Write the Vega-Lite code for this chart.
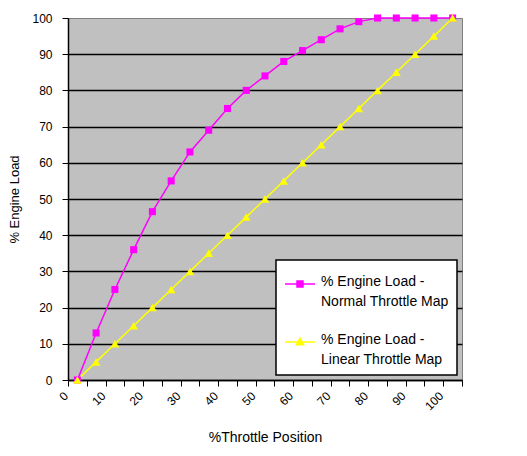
{
  "$schema": "https://vega.github.io/schema/vega-lite/v6.json",
  "width": 394,
  "height": 362,
  "autosize": "none",
  "padding": {"left": 68, "top": 18, "right": 65, "bottom": 76},
  "background": "white",
  "data": {
    "values": [
      {"throttle": 0, "load": 0, "map": "Normal"},
      {"throttle": 5, "load": 13, "map": "Normal"},
      {"throttle": 10, "load": 25, "map": "Normal"},
      {"throttle": 15, "load": 36, "map": "Normal"},
      {"throttle": 20, "load": 46.5, "map": "Normal"},
      {"throttle": 25, "load": 55, "map": "Normal"},
      {"throttle": 30, "load": 63, "map": "Normal"},
      {"throttle": 35, "load": 69, "map": "Normal"},
      {"throttle": 40, "load": 75, "map": "Normal"},
      {"throttle": 45, "load": 80, "map": "Normal"},
      {"throttle": 50, "load": 84, "map": "Normal"},
      {"throttle": 55, "load": 88, "map": "Normal"},
      {"throttle": 60, "load": 91, "map": "Normal"},
      {"throttle": 65, "load": 94, "map": "Normal"},
      {"throttle": 70, "load": 97, "map": "Normal"},
      {"throttle": 75, "load": 99, "map": "Normal"},
      {"throttle": 80, "load": 100, "map": "Normal"},
      {"throttle": 85, "load": 100, "map": "Normal"},
      {"throttle": 90, "load": 100, "map": "Normal"},
      {"throttle": 95, "load": 100, "map": "Normal"},
      {"throttle": 100, "load": 100, "map": "Normal"},
      {"throttle": 0, "load": 0, "map": "Linear"},
      {"throttle": 5, "load": 5, "map": "Linear"},
      {"throttle": 10, "load": 10, "map": "Linear"},
      {"throttle": 15, "load": 15, "map": "Linear"},
      {"throttle": 20, "load": 20, "map": "Linear"},
      {"throttle": 25, "load": 25, "map": "Linear"},
      {"throttle": 30, "load": 30, "map": "Linear"},
      {"throttle": 35, "load": 35, "map": "Linear"},
      {"throttle": 40, "load": 40, "map": "Linear"},
      {"throttle": 45, "load": 45, "map": "Linear"},
      {"throttle": 50, "load": 50, "map": "Linear"},
      {"throttle": 55, "load": 55, "map": "Linear"},
      {"throttle": 60, "load": 60, "map": "Linear"},
      {"throttle": 65, "load": 65, "map": "Linear"},
      {"throttle": 70, "load": 70, "map": "Linear"},
      {"throttle": 75, "load": 75, "map": "Linear"},
      {"throttle": 80, "load": 80, "map": "Linear"},
      {"throttle": 85, "load": 85, "map": "Linear"},
      {"throttle": 90, "load": 90, "map": "Linear"},
      {"throttle": 95, "load": 95, "map": "Linear"},
      {"throttle": 100, "load": 100, "map": "Linear"}
    ]
  },
  "encoding": {
    "x": {
      "field": "throttle",
      "type": "quantitative",
      "scale": {"domain": [-2.5, 102.5], "nice": false, "zero": false},
      "axis": {
        "title": "%Throttle Position",
        "values": [-2.5, 2.5, 7.5, 12.5, 17.5, 22.5, 27.5, 32.5, 37.5, 42.5, 47.5, 52.5, 57.5, 62.5, 67.5, 72.5, 77.5, 82.5, 87.5, 92.5, 97.5, 102.5],
        "labelExpr": "(datum.value + 2.5) % 10 == 0 ? format(datum.value + 2.5, 'd') : ''",
        "labelAngle": -45,
        "labelOffset": -6,
        "labelOverlap": false,
        "labelFlush": false,
        "labelPadding": 4,
        "labelFontSize": 12,
        "grid": false,
        "tickSize": 6,
        "titleFontSize": 14,
        "titlePadding": 19
      }
    },
    "y": {
      "field": "load",
      "type": "quantitative",
      "scale": {"domain": [0, 100], "nice": false},
      "axis": {
        "title": "% Engine Load",
        "values": [0, 10, 20, 30, 40, 50, 60, 70, 80, 90, 100],
        "grid": true,
        "gridColor": {"condition": {"test": "datum.value == 100", "value": "transparent"}, "value": "black"},
        "gridWidth": 1.5,
        "tickSize": 6,
        "labelPadding": 10,
        "labelFontSize": 12,
        "titleFontSize": 13,
        "titlePadding": 10
      }
    },
    "color": {
      "field": "map",
      "type": "nominal",
      "scale": {"domain": ["Normal", "Linear"], "range": ["#FF00FF", "#FFFF00"]},
      "legend": {
        "title": null,
        "orient": "bottom-right",
        "offset": 5,
        "labelExpr": "datum.value == 'Normal' ? ['% Engine Load -', 'Normal Throttle Map'] : ['% Engine Load -', 'Linear Throttle Map']",
        "labelFontSize": 14,
        "labelLimit": 300,
        "labelOffset": 5,
        "labelBaseline": "top",
        "symbolType": "stroke",
        "symbolSize": 900,
        "symbolStrokeWidth": 1.5,
        "padding": 8,
        "rowPadding": 17,
        "fillColor": "white",
        "strokeColor": "black",
        "encoding": {
          "symbols": {
            "shape": {
              "condition": {"test": "datum.value == 'Normal'", "value": "M-1,0H1M-0.2,-0.2H0.2V0.2H-0.2Z"},
              "value": "M-1,0H1M0,-0.26L0.24,0.18H-0.24Z"
            },
            "size": {"value": 900},
            "strokeWidth": {"value": 1.5},
            "fill": {
              "condition": {"test": "datum.value == 'Normal'", "value": "#FF00FF"},
              "value": "#FFFF00"
            },
            "stroke": {
              "condition": {"test": "datum.value == 'Normal'", "value": "#FF00FF"},
              "value": "#FFFF00"
            },
            "opacity": {"value": 1}
          },
          "labels": {
            "dy": {"value": -9},
            "lineHeight": {"value": 20}
          },
          "legend": {
            "strokeWidth": {"value": 1.5}
          }
        }
      }
    }
  },
  "layer": [
    {"mark": {"type": "line", "strokeWidth": 1.5}},
    {
      "mark": {"type": "point", "filled": true, "opacity": 1},
      "encoding": {
        "shape": {
          "condition": {"test": "datum.map == 'Normal'", "value": "square"},
          "value": "triangle-up"
        },
        "size": {
          "condition": {"test": "datum.map == 'Normal'", "value": 50},
          "value": 75
        }
      }
    }
  ],
  "config": {
    "font": "Liberation Sans",
    "view": {"fill": "#C0C0C0", "stroke": "#808080", "strokeWidth": 1},
    "axis": {
      "domainColor": "black",
      "domainWidth": 1.5,
      "tickColor": "black",
      "tickWidth": 1,
      "labelColor": "black",
      "titleColor": "black",
      "titleFontWeight": "normal",
      "labelFont": "Liberation Sans",
      "titleFont": "Liberation Sans"
    },
    "legend": {
      "labelColor": "black",
      "labelFont": "Liberation Sans"
    }
  }
}
